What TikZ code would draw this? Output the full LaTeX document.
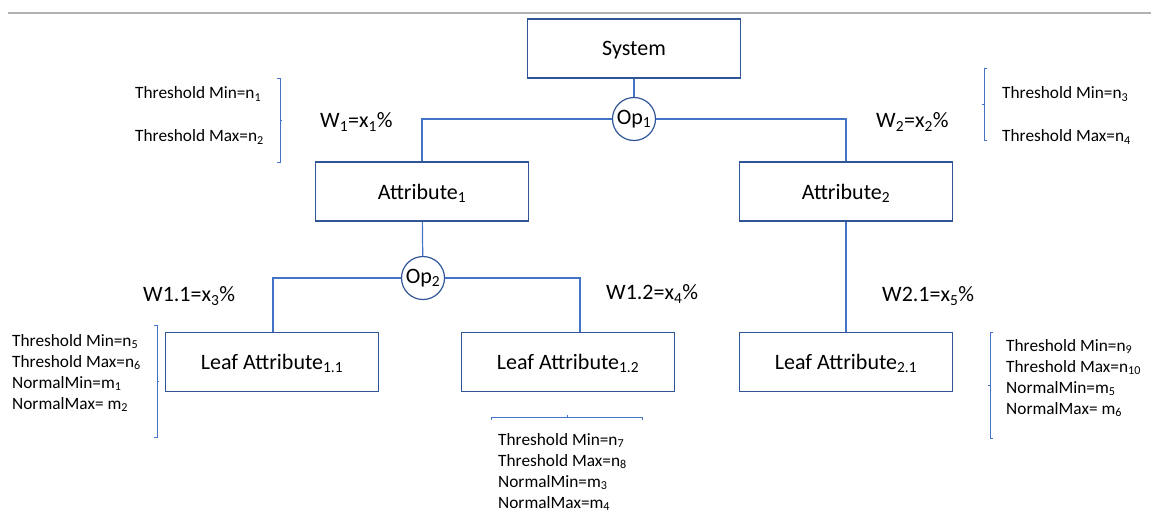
\documentclass[tikz,border=0pt]{standalone}
\usepackage{fontspec}
\setmainfont{Carlito}
\definecolor{boxblue}{HTML}{2F5597}
\definecolor{linkblue}{HTML}{4472C4}
\newcommand{\bigtext}{\fontsize{22}{26}\selectfont}
\newcommand{\smalltext}{\fontsize{17.3}{21}\selectfont}
\tikzstyle{block}=[draw=boxblue, line width=1.6pt, minimum width=213pt, minimum height=59pt, inner sep=0, text depth=0pt, font=\bigtext]
\tikzstyle{opnode}=[draw=boxblue, circle, line width=1.2pt, minimum size=43pt, inner sep=0, font=\bigtext]
\tikzstyle{link}=[draw=linkblue, line width=1.2pt]
\tikzstyle{bracket}=[draw=linkblue, line width=1pt]
\tikzstyle{weight}=[inner sep=0, anchor=west, font=\bigtext]
\tikzstyle{limits}=[inner sep=0, anchor=west, font=\smalltext, align=left]

\begin{document}
\begin{tikzpicture}[x=1pt, y=-1pt]
        \useasboundingbox (0, 0) rectangle (1151, 512);
        % rule at the top
        \draw[gray!60, line width=1.2pt] (8, 13) -- (1151, 13);
        % blocks
        \node[block] (sys) at (634, 48.5) {System};
        \node[block] (attr1) at (422, 191.5) {Attribute\textsubscript{1}};
        \node[block] (attr2) at (846, 191.5) {Attribute\textsubscript{2}};
        \node[block] (leaf11) at (272, 362) {Leaf Attribute\textsubscript{1.1}};
        \node[block] (leaf12) at (568, 362) {Leaf Attribute\textsubscript{1.2}};
        \node[block] (leaf21) at (846, 362) {Leaf Attribute\textsubscript{2.1}};
        % operators
        \node[opnode] (op1) at (634, 119) {Op\textsubscript{1}};
        \node[opnode] (op2) at (423, 278) {Op\textsubscript{2}};
        % links
        \draw[link] (sys) -- (op1);
        \draw[link] (op1) -| (attr1);
        \draw[link] (op1) -| (attr2);
        \draw[link] (attr1) -- (op2);
        \draw[link] (op2) -| ([xshift=1pt]leaf11.north);
        \draw[link] (op2) -| ([xshift=12pt]leaf12.north);
        \draw[link] (attr2) -- (leaf21);
        % weights
        \node[weight] (w1) at (320, 122) {W\textsubscript{1}=x\textsubscript{1}\%};
        \node[weight] (w2) at (876, 122) {W\textsubscript{2}=x\textsubscript{2}\%};
        \node[weight] (w11) at (143, 296) {W1.1=x\textsubscript{3}\%};
        \node[weight] (w12) at (606, 294) {W1.2=x\textsubscript{4}\%};
        \node[weight] (w21) at (882, 296) {W2.1=x\textsubscript{5}\%};
        % limits of the attributes
        \node[limits] (min1) at (135, 94) {Threshold Min=n\textsubscript{1}};
        \node[limits] (max1) at (135, 137) {Threshold Max=n\textsubscript{2}};
        \node[limits] (min2) at (1002, 94) {Threshold Min=n\textsubscript{3}};
        \node[limits] (max2) at (1002, 137) {Threshold Max=n\textsubscript{4}};
        \node[limits] (lim11) at (12, 373) {Threshold Min=n\textsubscript{5}\\Threshold Max=n\textsubscript{6}\\NormalMin=m\textsubscript{1}\\NormalMax= m\textsubscript{2}};
        \node[limits] (lim12) at (498, 472) {Threshold Min=n\textsubscript{7}\\Threshold Max=n\textsubscript{8}\\NormalMin=m\textsubscript{3}\\NormalMax=m\textsubscript{4}};
        \node[limits] (lim21) at (1006, 378) {Threshold Min=n\textsubscript{9}\\Threshold Max=n\textsubscript{10}\\NormalMin=m\textsubscript{5}\\NormalMax= m\textsubscript{6}};
        % brackets
        \draw[bracket] (277, 78) -- (280, 78) -- (280, 162) -- (277, 162);
        \draw[bracket] (280, 120) -- (282, 120);
        \draw[bracket] (987, 68) -- (984, 68) -- (984, 140) -- (987, 140);
        \draw[bracket] (984, 104) -- (982, 104);
        \draw[bracket] (154, 325) -- (157, 325) -- (157, 437) -- (154, 437);
        \draw[bracket] (157, 381) -- (159, 381);
        \draw[bracket] (491, 420) -- (491, 417) -- (642, 417) -- (642, 420);
        \draw[bracket] (567, 417) -- (567, 415);
        \draw[bracket] (993, 332) -- (990, 332) -- (990, 438) -- (993, 438);
        \draw[bracket] (990, 385) -- (988, 385);
    \end{tikzpicture}
\end{document}
